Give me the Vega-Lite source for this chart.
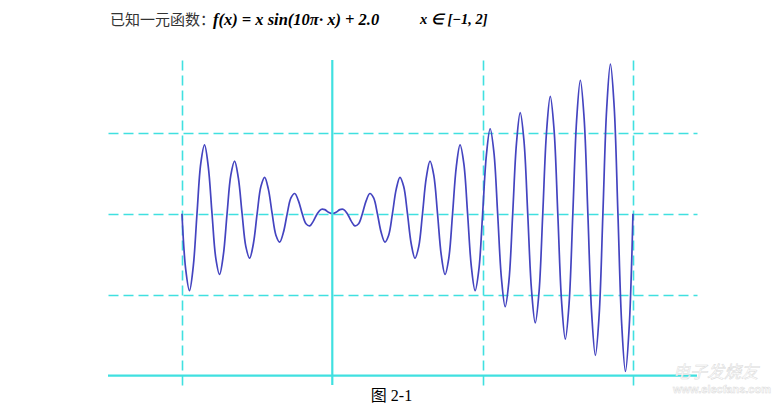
{
  "$schema": "https://vega.github.io/schema/vega-lite/v6.json",
  "width": 589,
  "height": 325,
  "autosize": {"type": "none"},
  "padding": {"left": 108, "top": 60, "right": 85, "bottom": 21},
  "background": "white",
  "config": {"view": {"stroke": null}},
  "layer": [
    {
      "data": {"values": [
        {"x": -1, "f": 2}, {"x": -0.975, "f": 1.3106}, {"x": -0.95, "f": 1.05}, {"x": -0.925, "f": 1.3459},
        {"x": -0.9, "f": 2}, {"x": -0.875, "f": 2.6187}, {"x": -0.85, "f": 2.85}, {"x": -0.825, "f": 2.5834},
        {"x": -0.8, "f": 2}, {"x": -0.775, "f": 1.452}, {"x": -0.75, "f": 1.25}, {"x": -0.725, "f": 1.4873},
        {"x": -0.7, "f": 2}, {"x": -0.675, "f": 2.4773}, {"x": -0.65, "f": 2.65}, {"x": -0.625, "f": 2.4419},
        {"x": -0.6, "f": 2}, {"x": -0.575, "f": 1.5934}, {"x": -0.55, "f": 1.45}, {"x": -0.525, "f": 1.6288},
        {"x": -0.5, "f": 2}, {"x": -0.475, "f": 2.3359}, {"x": -0.45, "f": 2.45}, {"x": -0.425, "f": 2.3005},
        {"x": -0.4, "f": 2}, {"x": -0.375, "f": 1.7348}, {"x": -0.35, "f": 1.65}, {"x": -0.325, "f": 1.7702},
        {"x": -0.3, "f": 2}, {"x": -0.275, "f": 2.1945}, {"x": -0.25, "f": 2.25}, {"x": -0.225, "f": 2.1591},
        {"x": -0.2, "f": 2}, {"x": -0.175, "f": 1.8763}, {"x": -0.15, "f": 1.85}, {"x": -0.125, "f": 1.9116},
        {"x": -0.1, "f": 2}, {"x": -0.075, "f": 2.053}, {"x": -0.05, "f": 2.05}, {"x": -0.025, "f": 2.0177},
        {"x": 0, "f": 2}, {"x": 0.025, "f": 2.0177}, {"x": 0.05, "f": 2.05}, {"x": 0.075, "f": 2.053},
        {"x": 0.1, "f": 2}, {"x": 0.125, "f": 1.9116}, {"x": 0.15, "f": 1.85}, {"x": 0.175, "f": 1.8763},
        {"x": 0.2, "f": 2}, {"x": 0.225, "f": 2.1591}, {"x": 0.25, "f": 2.25}, {"x": 0.275, "f": 2.1945},
        {"x": 0.3, "f": 2}, {"x": 0.325, "f": 1.7702}, {"x": 0.35, "f": 1.65}, {"x": 0.375, "f": 1.7348},
        {"x": 0.4, "f": 2}, {"x": 0.425, "f": 2.3005}, {"x": 0.45, "f": 2.45}, {"x": 0.475, "f": 2.3359},
        {"x": 0.5, "f": 2}, {"x": 0.525, "f": 1.6288}, {"x": 0.55, "f": 1.45}, {"x": 0.575, "f": 1.5934},
        {"x": 0.6, "f": 2}, {"x": 0.625, "f": 2.4419}, {"x": 0.65, "f": 2.65}, {"x": 0.675, "f": 2.4773},
        {"x": 0.7, "f": 2}, {"x": 0.725, "f": 1.4873}, {"x": 0.75, "f": 1.25}, {"x": 0.775, "f": 1.452},
        {"x": 0.8, "f": 2}, {"x": 0.825, "f": 2.5834}, {"x": 0.85, "f": 2.85}, {"x": 0.875, "f": 2.6187},
        {"x": 0.9, "f": 2}, {"x": 0.925, "f": 1.3459}, {"x": 0.95, "f": 1.05}, {"x": 0.975, "f": 1.3106},
        {"x": 1, "f": 2}, {"x": 1.025, "f": 2.7248}, {"x": 1.05, "f": 3.05}, {"x": 1.075, "f": 2.7601},
        {"x": 1.1, "f": 2}, {"x": 1.125, "f": 1.2045}, {"x": 1.15, "f": 0.85}, {"x": 1.175, "f": 1.1691},
        {"x": 1.2, "f": 2}, {"x": 1.225, "f": 2.8662}, {"x": 1.25, "f": 3.25}, {"x": 1.275, "f": 2.9016},
        {"x": 1.3, "f": 2}, {"x": 1.325, "f": 1.0631}, {"x": 1.35, "f": 0.65}, {"x": 1.375, "f": 1.0277},
        {"x": 1.4, "f": 2}, {"x": 1.425, "f": 3.0076}, {"x": 1.45, "f": 3.45}, {"x": 1.475, "f": 3.043},
        {"x": 1.5, "f": 2}, {"x": 1.525, "f": 0.9217}, {"x": 1.55, "f": 0.45}, {"x": 1.575, "f": 0.8863},
        {"x": 1.6, "f": 2}, {"x": 1.625, "f": 3.149}, {"x": 1.65, "f": 3.65}, {"x": 1.675, "f": 3.1844},
        {"x": 1.7, "f": 2}, {"x": 1.725, "f": 0.7802}, {"x": 1.75, "f": 0.25}, {"x": 1.775, "f": 0.7449},
        {"x": 1.8, "f": 2}, {"x": 1.825, "f": 3.2905}, {"x": 1.85, "f": 3.85}, {"x": 1.875, "f": 3.3258},
        {"x": 1.9, "f": 2}, {"x": 1.925, "f": 0.6388}, {"x": 1.95, "f": 0.05}, {"x": 1.975, "f": 0.6035},
        {"x": 2, "f": 2}
      ]},
      "mark": {"type": "line", "color": "#4444c0", "strokeWidth": 1.7, "interpolate": "catmull-rom"},
      "encoding": {
        "x": {
          "field": "x", "type": "quantitative",
          "scale": {"domain": [-1.492, 2.426], "nice": false, "zero": false},
          "axis": {
            "values": [-1, 1, 2], "grid": true, "gridDash": [10, 5], "gridColor": "#40e0e0", "gridWidth": 1.6,
            "labels": false, "ticks": false, "domain": false,
            "title": "图 2-1", "titleX": 283, "titleY": 10, "titleAlign": "center", "titleBaseline": "middle",
            "titleFont": "Liberation Serif, Noto Sans CJK SC", "titleFontSize": 16, "titleFontWeight": "normal", "titleColor": "#000000"
          }
        },
        "y": {
          "field": "f", "type": "quantitative",
          "scale": {"domain": [-0.117, 3.9], "nice": false, "zero": false},
          "axis": {
            "values": [1, 2, 3], "grid": true, "gridDash": [10, 5], "gridColor": "#40e0e0", "gridWidth": 1.6,
            "labels": false, "ticks": false, "domain": false, "title": null
          }
        }
      }
    },
    {
      "data": {"values": [{}]},
      "mark": {"type": "rule", "color": "#40e0e0", "strokeWidth": 2.2},
      "encoding": {"x": {"datum": 0}}
    },
    {
      "data": {"values": [{}]},
      "mark": {"type": "rule", "color": "#40e0e0", "strokeWidth": 2.2},
      "encoding": {"y": {"datum": 0}}
    },
    {
      "data": {"values": [{}]},
      "mark": {"type": "text", "align": "left", "baseline": "middle", "font": "Noto Sans CJK SC", "fontSize": 15, "fontWeight": "normal", "color": "#333333", "text": "已知一元函数："},
      "encoding": {"x": {"datum": -1.479}, "y": {"datum": 4.394}}
    },
    {
      "data": {"values": [{}]},
      "mark": {"type": "text", "align": "left", "baseline": "middle", "font": "Liberation Serif", "fontSize": 16.5, "fontWeight": "bold", "fontStyle": "italic", "color": "#000000", "text": "f(x) = x sin(10π· x) + 2.0"},
      "encoding": {"x": {"datum": -0.794}, "y": {"datum": 4.394}}
    },
    {
      "data": {"values": [{}]},
      "mark": {"type": "text", "align": "left", "baseline": "middle", "font": "Liberation Serif", "fontSize": 14.5, "fontWeight": "bold", "fontStyle": "italic", "color": "#000000", "text": "x ∈ [−1, 2]"},
      "encoding": {"x": {"datum": 0.583}, "y": {"datum": 4.394}}
    },
    {
      "data": {"values": [{}]},
      "mark": {"type": "text", "align": "left", "baseline": "middle", "font": "Noto Sans CJK SC", "fontSize": 17, "fontStyle": "italic", "color": "#ffffff", "stroke": "#dadada", "strokeWidth": 0.5, "text": "电子发烧友"},
      "encoding": {"x": {"datum": 2.266}, "y": {"datum": 0.031}}
    },
    {
      "data": {"values": [{}]},
      "mark": {"type": "text", "align": "left", "baseline": "middle", "font": "Liberation Sans", "fontSize": 11, "fontWeight": "bold", "color": "#ffffff", "stroke": "#dadada", "strokeWidth": 0.5, "text": "www.elecfans.com"},
      "encoding": {"x": {"datum": 2.266}, "y": {"datum": -0.179}}
    }
  ]
}
